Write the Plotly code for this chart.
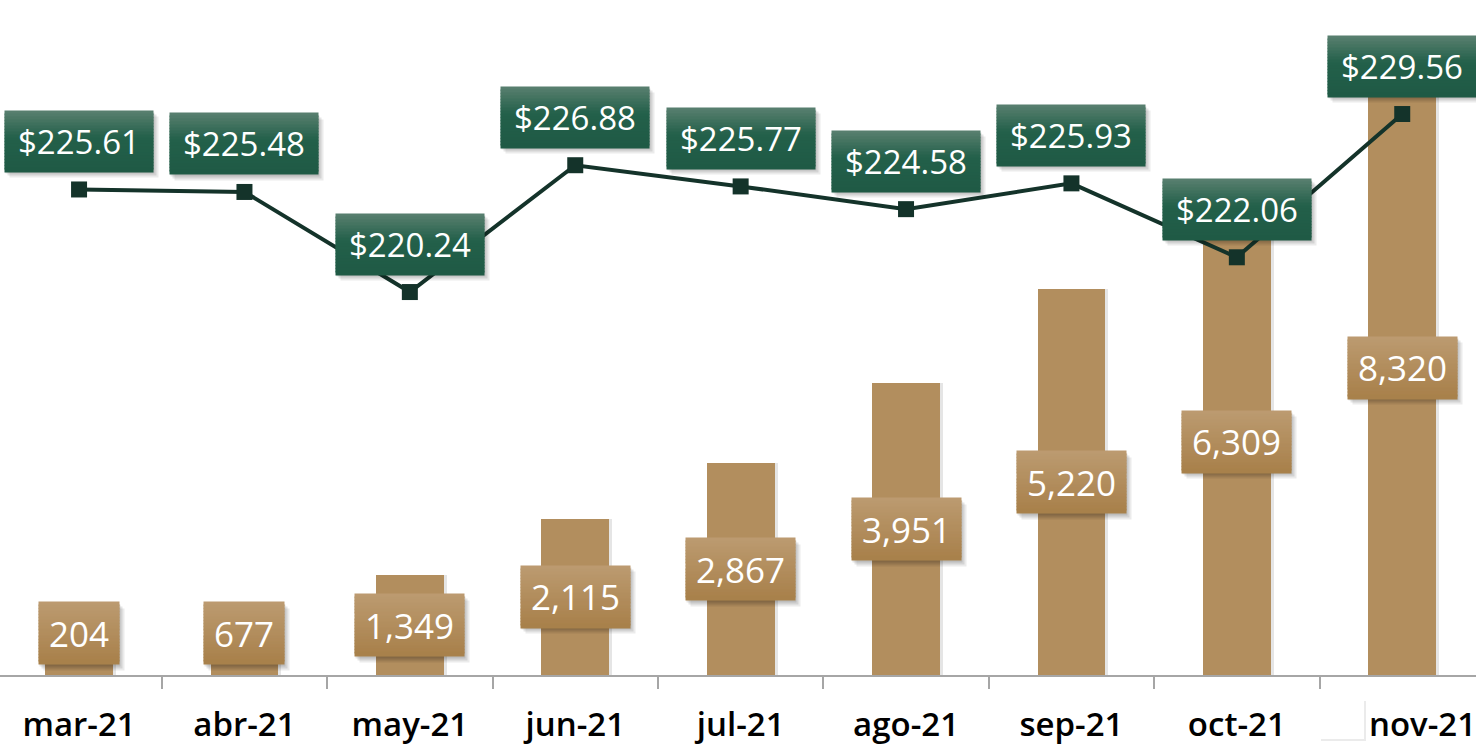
import plotly.graph_objects as go

months = ["mar-21", "abr-21", "may-21", "jun-21", "jul-21", "ago-21", "sep-21", "oct-21", "nov-21"]
volumes = [204, 677, 1349, 2115, 2867, 3951, 5220, 6309, 8320]
prices = [225.61, 225.48, 220.24, 226.88, 225.77, 224.58, 225.93, 222.06, 229.56]

BAR_COLOR = "#B28E5E"
BAR_GRAD = ("#BC9B71", "#A8804A")
GREEN_GRAD = ("#5A8070", "#23604A", "#1F5A45")
LINE_COLOR = "#14332A"

Y1_MAX = 9134
Y2_RANGE = [200.19, 235.53]
BAR_LABEL_MIN = 568
BAR_W = 0.41

# Open Sans advance widths (em)
CHAR_W = {".": 0.266, ",": 0.249}


def text_width(s, size):
    return sum(CHAR_W.get(c, 0.572) for c in s) * size


def hex_to_rgb(h):
    h = h.lstrip("#")
    return tuple(int(h[i:i + 2], 16) for i in (0, 2, 4))


def mix(c1, c2, t):
    a, b = hex_to_rgb(c1), hex_to_rgb(c2)
    return "rgb(%d,%d,%d)" % tuple(round(a[k] + (b[k] - a[k]) * t) for k in range(3))


def grad_color(stops, t):
    if len(stops) == 2:
        return mix(stops[0], stops[1], t)
    if t < 0.45:
        return mix(stops[0], stops[1], t / 0.45)
    return mix(stops[1], stops[2], (t - 0.45) / 0.55)


BAR_FS = 35
PRICE_FS = 33


def label_box(anns, text, x, y, yref, size, box_w, box_h, stops, yshift=0, n=20):
    base = dict(x=x, y=y, xref="x", yref=yref, showarrow=False, borderpad=0,
                width=box_w, text="&nbsp;", font=dict(size=1, color="rgba(0,0,0,0)"))
    anns.append(dict(base, height=box_h, bgcolor="rgba(0,0,0,0.08)", xshift=5, yshift=yshift - 6))
    anns.append(dict(base, height=box_h, bgcolor="rgba(0,0,0,0.10)", xshift=3, yshift=yshift - 4))
    anns.append(dict(base, height=box_h, bgcolor="rgba(0,0,0,0.10)", xshift=1, yshift=yshift - 2))
    h = box_h / n
    for i in range(n):
        off = box_h / 2 - (i + 0.5) * h
        anns.append(dict(base, height=h + 1, bgcolor=grad_color(stops, (i + 0.5) / n),
                         yshift=yshift + off))
    anns.append(dict(x=x, y=y, xref="x", yref=yref, showarrow=False, text=text,
                     font=dict(size=size, color="white", family="Open Sans"), yshift=yshift))


fig = go.Figure()
# soft shadow behind bars
fig.add_trace(go.Bar(
    x=months, y=volumes, width=BAR_W, offset=-BAR_W / 2 + 0.018,
    marker=dict(color="rgba(0,0,0,0.10)", line=dict(width=0)),
    yaxis="y", hoverinfo="skip", showlegend=False,
))
fig.add_trace(go.Bar(
    x=months, y=volumes, width=BAR_W, offset=-BAR_W / 2,
    marker=dict(color=BAR_COLOR, line=dict(width=0)),
    yaxis="y", hoverinfo="skip", showlegend=False,
))
fig.add_trace(go.Scatter(
    x=months, y=prices, yaxis="y2", mode="lines+markers",
    line=dict(color=LINE_COLOR, width=4),
    marker=dict(symbol="square", size=16, color=LINE_COLOR),
    hoverinfo="skip", showlegend=False,
))

annotations = []
for m, v in zip(months, volumes):
    t = f"{v:,}"
    label_box(annotations, t, m, max(v / 2, BAR_LABEL_MIN), "y", BAR_FS,
              round(text_width(t, BAR_FS)) + 20, 61, BAR_GRAD)
for m, p in zip(months, prices):
    t = f"${p:.2f}"
    label_box(annotations, t, m, p, "y2", PRICE_FS,
              round(text_width(t, PRICE_FS)) + 26, 60, GREEN_GRAD, yshift=48)

TICK_FONT = dict(size=33, color="black", family="Open Sans", weight=600)
ticktext = months[:-1] + [""]
annotations.append(dict(x=months[-1], y=0, xref="x", yref="paper", yanchor="middle",
                        showarrow=False, text=months[-1], font=TICK_FONT, xshift=20, yshift=-48))

fig.update_layout(
    width=1476, height=745,
    margin=dict(l=0, r=0, t=0, b=70),
    paper_bgcolor="white", plot_bgcolor="white",
    barmode="overlay", bargap=0,
    xaxis=dict(
        type="category", range=[-0.478, 8.446],
        tickmode="array", tickvals=months, ticktext=ticktext,
        showline=True, linecolor="#A6A6A6", linewidth=1.5,
        ticks="outside", tickson="boundaries", ticklen=12, tickcolor="#A6A6A6", tickwidth=1.5,
        ticklabelstandoff=20,
        tickfont=TICK_FONT,
        showgrid=False, zeroline=False,
    ),
    yaxis=dict(range=[0, Y1_MAX], visible=False, showgrid=False, zeroline=False),
    yaxis2=dict(range=Y2_RANGE, overlaying="y", visible=False, showgrid=False, zeroline=False),
    annotations=annotations,
    shapes=[
        dict(type="rect", xref="paper", yref="paper", x0=1321 / 1476, x1=1366 / 1476,
             y0=-(741 - 675) / 675, y1=-(701 - 675) / 675, fillcolor="rgba(0,0,0,0.08)",
             line=dict(width=0), layer="above"),
        dict(type="rect", xref="paper", yref="paper", x0=1319 / 1476, x1=1364 / 1476,
             y0=-(739 - 675) / 675, y1=-(699 - 675) / 675, fillcolor="white",
             line=dict(width=0), layer="above"),
    ],
)

fig.write_html("out.html", config={"displayModeBar": False},
               post_script="document.body.style.margin='0';document.body.style.overflow='hidden';")
